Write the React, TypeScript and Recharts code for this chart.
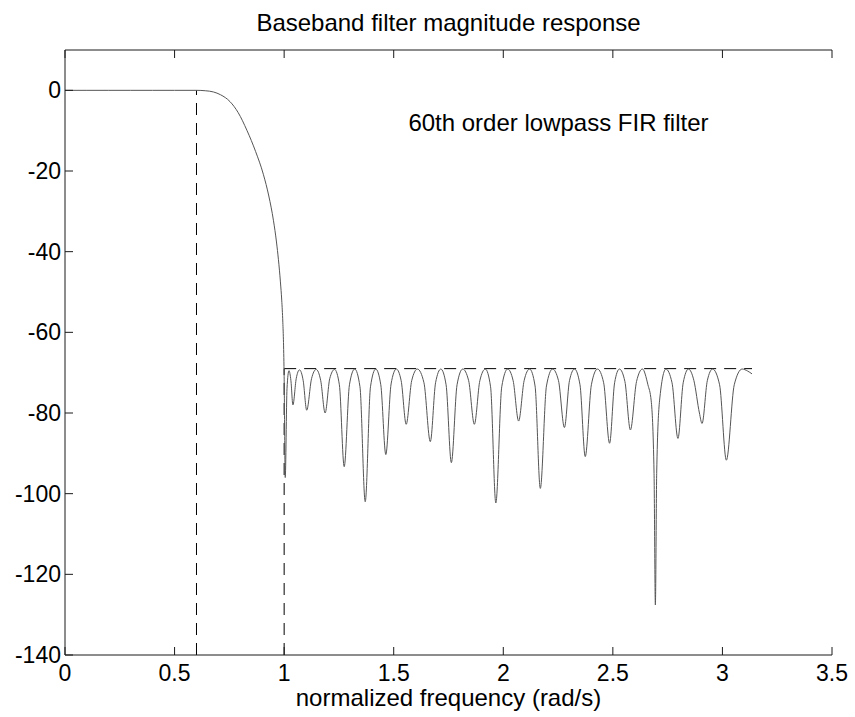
import { LineChart, Line, XAxis, YAxis, ReferenceLine, ReferenceDot } from 'recharts';

// frequency in rad/s, magnitude in dB
const passFreq = [0, 0.1, 0.2, 0.3, 0.4, 0.5, 0.6, 0.64, 0.677, 0.71, 0.753, 0.79, 0.83, 0.87, 0.905, 0.93, 0.951, 0.965, 0.974, 0.983, 0.989, 0.994, 0.997, 1.0];
const passDb = [0, 0, 0, 0, 0, 0, 0, -0.1, -0.4, -1.1, -2.8, -5.5, -9.9, -15.2, -20.8, -26.2, -32.2, -37.6, -42, -47.5, -52, -57.5, -62.5, -71];

const stopFreq = [
  1.005, 1.013, 1.022, 1.031, 1.04, 1.055, 1.07, 1.087, 1.103, 1.125, 1.146, 1.167, 1.187, 1.208, 1.23,
  1.252, 1.274, 1.298, 1.322, 1.346, 1.37, 1.394, 1.418, 1.441, 1.464, 1.488, 1.512, 1.534, 1.557, 1.582,
  1.608, 1.638, 1.667, 1.691, 1.715, 1.739, 1.763, 1.789, 1.815, 1.842, 1.868, 1.893, 1.918, 1.942, 1.966,
  1.993, 2.02, 2.045, 2.07, 2.095, 2.12, 2.145, 2.169, 2.197, 2.225, 2.252, 2.279, 2.302, 2.325, 2.35,
  2.374, 2.402, 2.43, 2.458, 2.485, 2.508, 2.53, 2.555, 2.58, 2.608, 2.635, 2.66, 2.675, 2.688, 2.694,
  2.7, 2.713, 2.742, 2.77, 2.797, 2.821, 2.845, 2.87, 2.895, 2.907, 2.931, 2.955, 2.987, 3.018, 3.054,
  3.09, 3.115, 3.135,
];
const stopDb = [
  -96, -74, -69.5, -72, -78, -71.5, -69.3, -72, -79.3, -71.5, -69.2, -72, -80, -71.5, -69.2,
  -73, -93.3, -73, -69.1, -73.5, -102, -73.5, -69.1, -73, -90.3, -72.8, -69.1, -72, -82.8, -72,
  -69.1, -72.5, -87.1, -72.5, -69.1, -73, -92.3, -73, -69.1, -72, -82.8, -72, -69.1, -73.5, -102.3,
  -73.5, -69.1, -72, -82, -72, -69.1, -73.3, -98.7, -73.3, -69.1, -72, -83.6, -72, -69.1, -73,
  -90.8, -73, -69.1, -72.5, -87.5, -72.5, -69.1, -72.2, -84.2, -72.2, -69.1, -73, -77, -95, -127.6,
  -95, -77, -69.1, -72.5, -86.3, -72.5, -69.1, -72, -80, -82.6, -72, -69.1, -73, -91.7, -73,
  -69.1, -69.6, -70.3,
];

const xTicks = [0, 0.5, 1, 1.5, 2, 2.5, 3, 3.5];
const yTicks = [-140, -120, -100, -80, -60, -40, -20, 0];

const passEdge = 0.6;
const stopEdge = 1.0;
const stopLevel = -69;
const stopEnd = 3.135;

const data = passFreq
  .map((f, i) => ({ f, db: passDb[i] }))
  .concat(stopFreq.map((f, i) => ({ f, db: stopDb[i] })));

const FONT = 'Arial, "Liberation Sans", Helvetica, sans-serif';
const INK = '#1a1a1a';
const TICK = 8;

function BottomTick({ x, y, payload }: any) {
  return (
    <g>
      <line x1={x} y1={y} x2={x} y2={y - TICK} stroke={INK} />
      <text x={x} y={y + 26} textAnchor="middle" fontSize={23} fontFamily={FONT} fill="#000">
        {payload.value}
      </text>
    </g>
  );
}

function LeftTick({ x, y, payload }: any) {
  return (
    <g>
      <line x1={x} y1={y} x2={x + TICK} y2={y} stroke={INK} />
      <text x={x - 4} y={y + 8} textAnchor="end" fontSize={23} fontFamily={FONT} fill="#000">
        {payload.value}
      </text>
    </g>
  );
}

function TopTick({ x, y }: any) {
  return <line x1={x} y1={y} x2={x} y2={y + TICK} stroke={INK} />;
}

function RightTick({ x, y }: any) {
  return <line x1={x} y1={y} x2={x - TICK} y2={y} stroke={INK} />;
}

export default function App() {
  return (
    <div style={{ position: 'absolute', left: 0, top: 0, background: '#fff' }}>
      <LineChart width={855} height={717} data={data} margin={{ top: 0, right: 23, bottom: 0, left: 0 }}>
        <XAxis
          dataKey="f"
          type="number"
          domain={[0, 3.5]}
          ticks={xTicks}
          interval={0}
          height={62}
          tickSize={0}
          tickMargin={0}
          tickLine={false}
          axisLine={{ stroke: INK }}
          tick={BottomTick}
          label={{
            value: 'normalized frequency (rad/s)',
            position: 'insideBottom',
            offset: 11,
            fontSize: 24,
            fontFamily: FONT,
            fill: '#000',
          }}
        />
        <XAxis
          xAxisId="top"
          orientation="top"
          dataKey="f"
          type="number"
          domain={[0, 3.5]}
          ticks={xTicks}
          interval={0}
          height={50}
          tickSize={0}
          tickMargin={0}
          tickLine={false}
          axisLine={{ stroke: INK }}
          tick={TopTick}
          label={{
            value: 'Baseband filter magnitude response',
            position: 'insideTop',
            offset: 14,
            fontSize: 24,
            fontFamily: FONT,
            fill: '#000',
          }}
        />
        <YAxis
          type="number"
          domain={[-140, 10]}
          ticks={yTicks}
          interval={0}
          width={65}
          tickSize={0}
          tickMargin={0}
          tickLine={false}
          axisLine={{ stroke: INK }}
          tick={LeftTick}
        />
        <YAxis
          yAxisId="right"
          orientation="right"
          type="number"
          domain={[-140, 10]}
          ticks={yTicks}
          interval={0}
          width={0}
          tickSize={0}
          tickMargin={0}
          tickLine={false}
          axisLine={{ stroke: INK }}
          tick={RightTick}
        />
        <ReferenceLine
          segment={[{ x: passEdge, y: -140 }, { x: passEdge, y: 0 }]}
          stroke="#000"
          strokeDasharray="12 8"
        />
        <ReferenceLine
          segment={[{ x: stopEdge, y: -140 }, { x: stopEdge, y: stopLevel }]}
          stroke="#000"
          strokeDasharray="12 8"
        />
        <ReferenceLine
          segment={[{ x: stopEdge, y: stopLevel }, { x: stopEnd, y: stopLevel }]}
          stroke="#000"
          strokeDasharray="12 8"
        />
        <Line
          dataKey="db"
          type="monotone"
          stroke="#555"
          strokeWidth={1}
          dot={false}
          activeDot={false}
          isAnimationActive={false}
        />
        <ReferenceDot
          x={1.567}
          y={-7.9}
          r={0}
          fill="none"
          stroke="none"
          label={{
            value: '60th order lowpass FIR filter',
            position: 'right',
            offset: 0,
            fontSize: 24,
            fontFamily: FONT,
            fill: '#000',
          }}
        />
      </LineChart>
    </div>
  );
}
